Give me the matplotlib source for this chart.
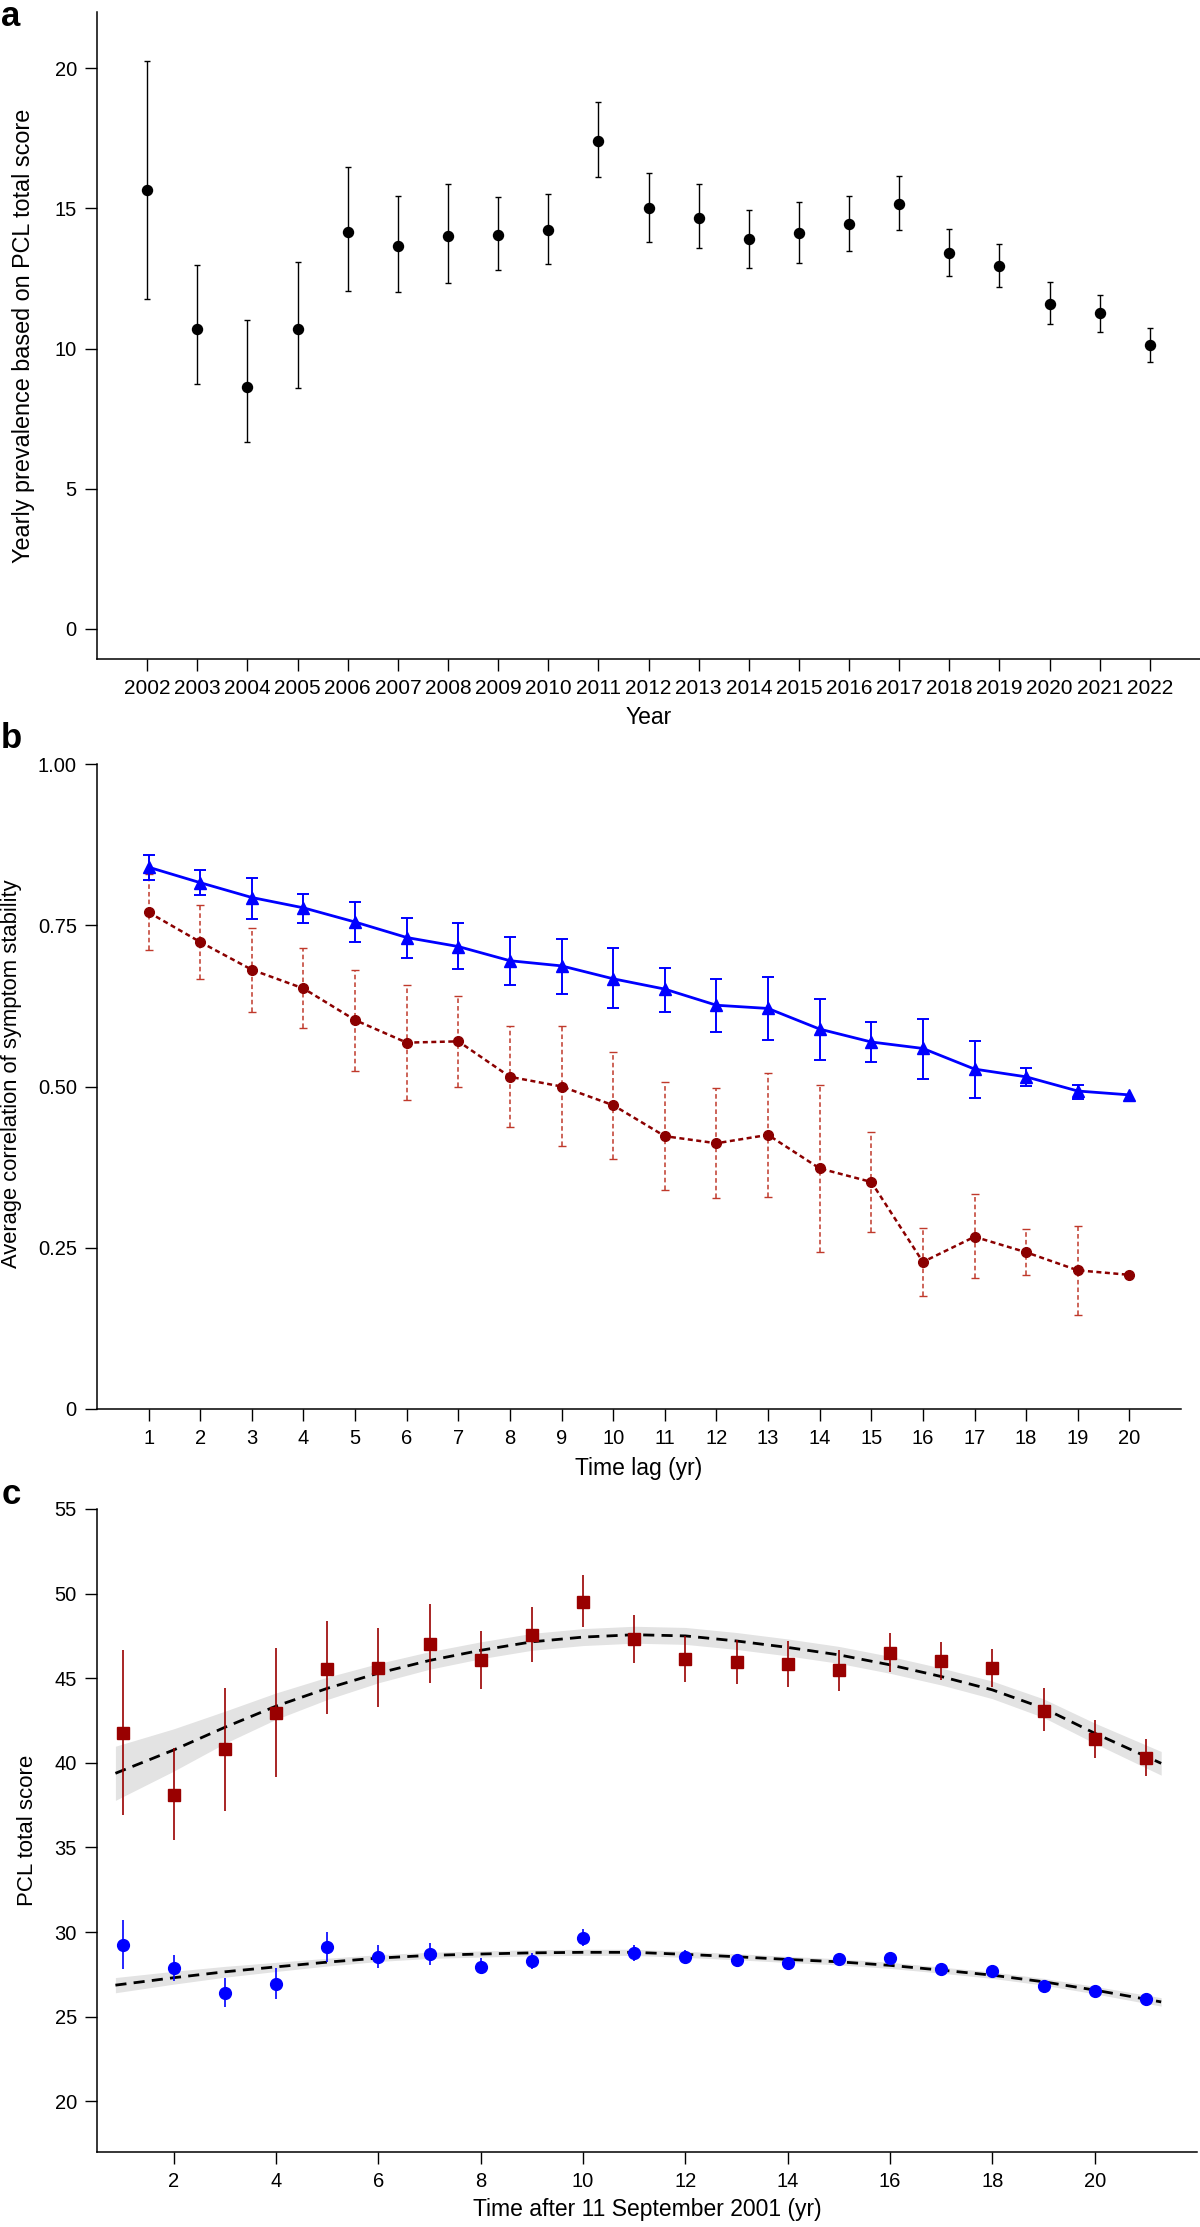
import matplotlib
matplotlib.use("Agg")
import matplotlib.pyplot as plt
import numpy as np

plt.rcParams['font.family'] = ['Liberation Sans', 'DejaVu Sans']

# ---- panel a: yearly prevalence ----
years = np.arange(2002, 2023)
prev = np.array([15.64, 10.71, 8.64, 10.68, 14.14, 13.66, 14.02, 14.05, 14.23, 17.40,
                 15.00, 14.67, 13.89, 14.11, 14.44, 15.16, 13.41, 12.93, 11.60, 11.25, 10.12])
prev_lo = np.array([11.75, 8.75, 6.68, 8.60, 12.04, 12.02, 12.33, 12.79, 13.01, 16.10,
                    13.81, 13.57, 12.87, 13.06, 13.49, 14.23, 12.60, 12.18, 10.86, 10.60, 9.51])
prev_hi = np.array([20.26, 12.98, 11.00, 13.10, 16.46, 15.43, 15.87, 15.42, 15.51, 18.80,
                    16.27, 15.86, 14.94, 15.23, 15.44, 16.15, 14.27, 13.71, 12.38, 11.92, 10.75])

# ---- panel b: correlation by time lag ----
lags = np.arange(1, 21)
corr_blue = np.array([0.840, 0.816, 0.793, 0.777, 0.755, 0.731, 0.717, 0.695, 0.687, 0.667,
                      0.651, 0.626, 0.621, 0.589, 0.569, 0.559, 0.527, 0.515, 0.493, 0.487])
corr_blue_hi = np.array([0.859, 0.835, 0.824, 0.799, 0.786, 0.762, 0.753, 0.732, 0.729, 0.714,
                         0.684, 0.666, 0.669, 0.636, 0.600, 0.605, 0.571, 0.528, 0.503])
corr_blue_lo = np.array([0.820, 0.797, 0.760, 0.754, 0.724, 0.699, 0.682, 0.658, 0.644, 0.621,
                         0.615, 0.585, 0.572, 0.541, 0.538, 0.512, 0.482, 0.501, 0.481])
corr_red = np.array([0.770, 0.724, 0.681, 0.652, 0.603, 0.568, 0.570, 0.515, 0.500, 0.471,
                     0.423, 0.412, 0.425, 0.373, 0.352, 0.228, 0.267, 0.243, 0.215, 0.208])
corr_red_hi = np.array([0.829, 0.782, 0.746, 0.714, 0.681, 0.657, 0.640, 0.594, 0.594, 0.554,
                        0.507, 0.497, 0.521, 0.503, 0.429, 0.280, 0.333, 0.279, 0.284])
corr_red_lo = np.array([0.711, 0.666, 0.616, 0.590, 0.524, 0.479, 0.499, 0.437, 0.408, 0.388,
                        0.340, 0.327, 0.329, 0.244, 0.274, 0.175, 0.203, 0.207, 0.146])

# ---- panel c: PCL total score over time ----
t_years = np.arange(1, 22)
pcl_red = np.array([41.79, 38.12, 40.80, 42.97, 45.55, 45.63, 47.01, 46.09, 47.55, 49.53, 47.31,
                    46.14, 45.97, 45.85, 45.48, 46.50, 46.00, 45.60, 43.09, 41.41, 40.31])
pcl_red_hi = np.array([46.66, 40.90, 44.43, 46.80, 48.39, 47.96, 49.38, 47.80, 49.20, 51.07, 48.75,
                       47.50, 47.27, 47.17, 46.68, 47.70, 47.13, 46.72, 44.41, 42.54, 41.41])
pcl_red_lo = np.array([36.92, 35.44, 37.15, 39.18, 42.90, 43.30, 44.71, 44.35, 45.93, 48.00, 45.89,
                       44.80, 44.67, 44.47, 44.25, 45.34, 44.90, 44.47, 41.89, 40.31, 39.22])
pcl_blue = np.array([29.23, 27.89, 26.39, 26.94, 29.11, 28.54, 28.70, 27.94, 28.30, 29.66, 28.77,
                     28.52, 28.32, 28.16, 28.38, 28.48, 27.79, 27.69, 26.82, 26.49, 26.03])
pcl_blue_hi = np.array([30.70, 28.64, 27.30, 27.85, 30.00, 29.23, 29.37, 28.44, 28.74, 30.16, 29.23,
                        28.93, 28.60, 28.54, 28.70, 28.70, 28.00, 27.90, 27.02, 26.69, 26.20])
pcl_blue_lo = np.array([27.79, 27.10, 25.54, 26.02, 28.24, 27.89, 28.05, 27.50, 27.81, 29.17, 28.28,
                        28.14, 28.00, 27.85, 28.10, 28.26, 27.58, 27.48, 26.62, 26.29, 25.86])

# fitted trajectories
fit_t = np.array([0.86, 2, 3, 4, 5, 6, 7, 8, 9, 10, 11, 12, 13, 14, 15, 16, 17, 18, 19, 20, 21.3])
fit_red = np.array([39.38, 40.76, 42.10, 43.35, 44.40, 45.30, 46.05, 46.65, 47.15, 47.43, 47.57,
                    47.50, 47.20, 46.82, 46.38, 45.79, 45.10, 44.31, 43.23, 41.75, 39.97])
fit_red_hw = np.array([1.6, 1.25, 0.95, 0.78, 0.66, 0.57, 0.52, 0.5, 0.5, 0.5, 0.5,
                       0.5, 0.5, 0.5, 0.5, 0.5, 0.5, 0.52, 0.55, 0.6, 0.7])
fit_blue = np.array([26.86, 27.30, 27.65, 27.94, 28.22, 28.46, 28.62, 28.70, 28.77, 28.80, 28.80,
                     28.68, 28.54, 28.38, 28.24, 28.03, 27.75, 27.45, 27.06, 26.57, 25.87])
fit_blue_hw = np.array([0.45, 0.38, 0.32, 0.27, 0.23, 0.2, 0.18, 0.18, 0.18, 0.18, 0.18,
                        0.18, 0.18, 0.18, 0.18, 0.18, 0.18, 0.19, 0.2, 0.22, 0.25])

W, H = 1200, 2227
RED = '#8b0000'
BLUE = '#0000ff'


def rect(left, top, right, bottom):
    return [left / W, 1 - bottom / H, (right - left) / W, (bottom - top) / H]


def style(ax):
    for s in ['top', 'right']:
        ax.spines[s].set_visible(False)
    for s in ['left', 'bottom']:
        ax.spines[s].set_linewidth(1.1)
    ax.tick_params(direction='out', length=8.5, width=1.0, labelsize=14.5, pad=6)


def labels(ax, xlab, ylab, ylab_x, ylab_y, ysize):
    ax.set_xlabel(xlab, fontsize=16.5)
    ax.xaxis.label.set_va('center')
    ax.set_ylabel(ylab, fontsize=ysize)
    ax.yaxis.label.set_va('center')
    ax.yaxis.set_label_coords(ylab_x, ylab_y)


fig = plt.figure(figsize=(12, 22.27), dpi=100)

# panel a
ax = fig.add_axes(rect(97, 12, 1200, 659))
ax.errorbar(years, prev, yerr=[prev - prev_lo, prev_hi - prev], fmt='o', color='black',
            ms=7.2, elinewidth=1.0, capsize=2.5, capthick=1.0)
ax.set_xlim(2001, 2023)
ax.set_ylim(-1.07, 22)
ax.set_xticks(years)
ax.set_yticks([0, 5, 10, 15, 20])
style(ax)
ax.tick_params(axis='x', labelsize=15)
labels(ax, 'Year', 'Yearly prevalence based on PCL total score', -0.0662, 0.5, 16.8)
ax.xaxis.set_label_coords(0.5, -0.091)

# panel b
ax = fig.add_axes(rect(97, 764, 1181, 1409))
eb = ax.errorbar(lags[:-1], corr_red[:-1], yerr=[corr_red[:-1] - corr_red_lo, corr_red_hi - corr_red[:-1]],
                 fmt='none', ecolor='#c0392b', elinewidth=1.1, capsize=3, capthick=1.0)
eb[2][0].set_linestyle((0, (3, 2)))
ax.plot(lags, corr_red, color=RED, lw=1.8, ls=(0, (2, 1.4)), marker='o', ms=7)
ax.errorbar(lags[:-1], corr_blue[:-1], yerr=[corr_blue[:-1] - corr_blue_lo, corr_blue_hi - corr_blue[:-1]],
            fmt='none', ecolor=BLUE, elinewidth=1.4, capsize=4.5, capthick=1.4)
ax.plot(lags, corr_blue, color=BLUE, lw=2.0, marker='^', ms=9)
ax.set_xlim(0, 21)
ax.set_ylim(0, 1)
ax.set_xticks(lags)
ax.set_yticks([0, 0.25, 0.5, 0.75, 1.0])
ax.set_yticklabels(['0', '0.25', '0.50', '0.75', '1.00'])
style(ax)
labels(ax, 'Time lag (yr)', 'Average correlation of symptom stability', -0.079, 0.52, 15.8)
ax.xaxis.set_label_coords(0.5, -0.0915)

# panel c
ax = fig.add_axes(rect(97, 1509, 1197, 2152))
ax.fill_between(fit_t, fit_red - fit_red_hw, fit_red + fit_red_hw, color='#e3e3e3', lw=0, zorder=1)
ax.fill_between(fit_t, fit_blue - fit_blue_hw, fit_blue + fit_blue_hw, color='#e3e3e3', lw=0, zorder=1)
ax.plot(fit_t, fit_red, color='black', lw=2.0, ls=(0, (4, 2.6)), zorder=2)
ax.plot(fit_t, fit_blue, color='black', lw=2.0, ls=(0, (4, 2.6)), zorder=2)
ax.errorbar(t_years, pcl_red, yerr=[pcl_red - pcl_red_lo, pcl_red_hi - pcl_red], fmt='s', color='#990000',
            ms=8, elinewidth=1.2, capsize=0, zorder=3)
ax.errorbar(t_years, pcl_blue, yerr=[pcl_blue - pcl_blue_lo, pcl_blue_hi - pcl_blue], fmt='o', color=BLUE,
            ms=8.5, elinewidth=1.2, capsize=0, zorder=3)
ax.set_xlim(0.5, 22)
ax.set_ylim(17, 55)
ax.set_xticks(np.arange(2, 21, 2))
ax.set_yticks(np.arange(20, 56, 5))
style(ax)
labels(ax, 'Time after 11 September 2001 (yr)', 'PCL total score', -0.0632, 0.5, 16)
ax.xaxis.set_label_coords(0.5, -0.09)

# panel letters
for letter, top in [('a', 0), ('b', 722), ('c', 1478)]:
    fig.text(0.001, 1 - top / H, letter, fontsize=25, fontweight='bold', va='top', ha='left')

fig.savefig('out.png', dpi=100)
